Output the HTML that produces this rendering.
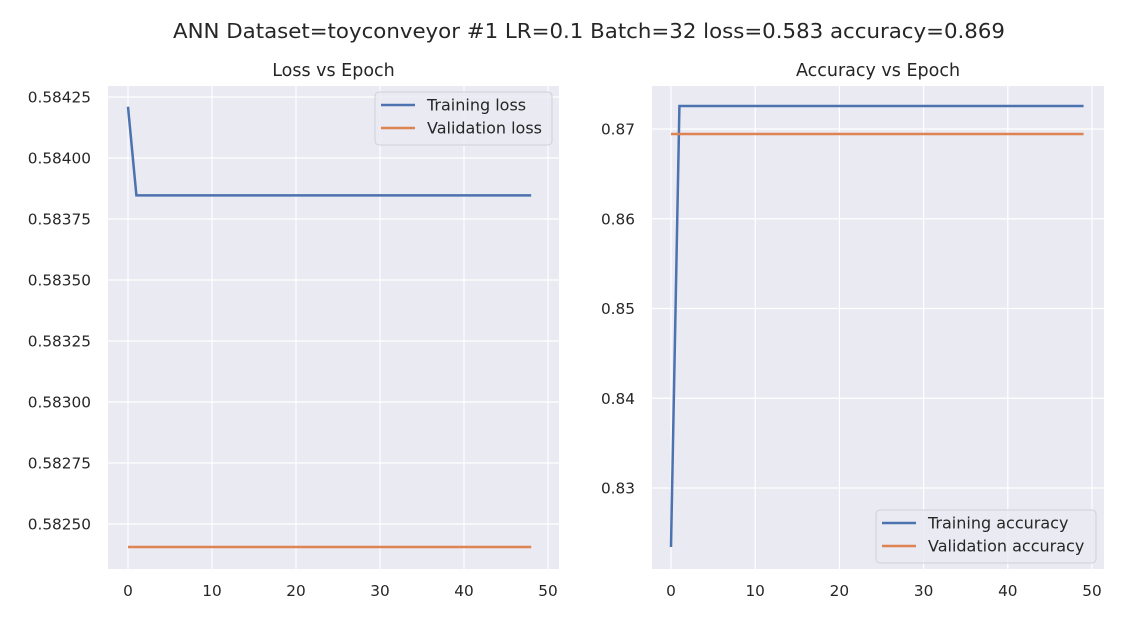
<!DOCTYPE html>
<html><head><meta charset="utf-8"><style>
body{margin:0;background:#fff;}
svg text{font-family:"DejaVu Sans","Liberation Sans",sans-serif;fill:#262626;}
</style></head><body>
<svg id="fig" width="1122" height="635" xmlns="http://www.w3.org/2000/svg">
<text x="589" y="38" font-size="20.3" text-anchor="middle" textLength="832" lengthAdjust="spacingAndGlyphs">ANN Dataset=toyconveyor #1 LR=0.1 Batch=32 loss=0.583 accuracy=0.869</text>
</svg>
<script>
const lossEpochs = Array.from({length:49},(_,i)=>i);
const trainLoss = [0.58421].concat(Array(48).fill(0.583847));
const valLoss = Array(49).fill(0.582406);
const accEpochs = Array.from({length:50},(_,i)=>i);
const trainAcc = [0.82343].concat(Array(49).fill(0.872563));
const valAcc = Array(50).fill(0.86944);
const lossYTicks = [0.5825,0.58275,0.583,0.58325,0.5835,0.58375,0.584,0.58425];
const accYTicks = [0.83,0.84,0.85,0.86,0.87];
const xTicks = [0,10,20,30,40,50];

const NS="http://www.w3.org/2000/svg";
const svg=document.getElementById('fig');
function mk(tag,attrs,parent){const e=document.createElementNS(NS,tag);for(const k in attrs)e.setAttribute(k,attrs[k]);(parent||svg).appendChild(e);return e;}

function panel(cfg){
  const g=mk('g',{});
  
  
  const {L,R,T,B}=cfg;
  const sx=v=>cfg.x0px+(v-0)*cfg.xs;
  const sy=v=>cfg.yRefPx+(cfg.yRef-v)*cfg.ys;
  const bg=mk('rect',{x:L,y:T,width:R-L,height:B-T,fill:'#eaeaf2'},g);
  
  
  cfg.yticks.forEach(t=>{
    const y=sy(t);
    const ln=mk('line',{x1:L,x2:R,y1:y,y2:y,stroke:'#fff','stroke-width':1.2},g);
    
    
    const tx=mk('text',{x:L-17,y:y+5.5,'font-size':15.3,'text-anchor':'end'},g);
    tx.textContent=cfg.fmt(t);
    
    
  });
  xTicks.forEach(t=>{
    const x=sx(t);
    const ln=mk('line',{x1:x,x2:x,y1:T,y2:B,stroke:'#fff','stroke-width':1.2},g);
    
    
    const tx=mk('text',{x:x,y:B+27,'font-size':15.3,'text-anchor':'middle'},g);
    tx.textContent=t;
    
    
  });
  const ti=mk('text',{x:(L+R)/2,y:T-10,'font-size':17.5,'text-anchor':'middle'},g);
  ti.textContent=cfg.title;
  
  
  cfg.series.forEach(s=>{
    const pts=s.y.map((v,i)=>sx(s.x[i]).toFixed(2)+','+sy(v).toFixed(2)).join(' ');
    const pl=mk('polyline',{points:pts,fill:'none',stroke:s.color,'stroke-width':2.5},g);
    
    
  });
  const lg=mk('g',{},g);
  
  
  mk('rect',{x:cfg.leg[0],y:cfg.leg[1],width:cfg.leg[2],height:53,rx:4,fill:'#eaeaf2','fill-opacity':0.8,stroke:'#d0d0d8'},lg);
  cfg.series.forEach((s,i)=>{
    const y=cfg.leg[1]+13+i*23;
    mk('line',{x1:cfg.leg[0]+6,x2:cfg.leg[0]+40,y1:y,y2:y,stroke:s.color,'stroke-width':2.5},lg);
    const t=mk('text',{x:cfg.leg[0]+52,y:y+5.5,'font-size':16},lg);
    t.textContent=s.label;
    
    
  });
}
panel({name:'loss-chart',title:'Loss vs Epoch',L:108,R:559,T:86,B:569,x0px:128,xs:8.4,yRef:0.584,yRefPx:158,ys:61/0.00025,
  yticks:lossYTicks,fmt:v=>v.toFixed(5),leg:[375,92,177],
  series:[{name:'training-loss-line',label:'Training loss',x:lossEpochs,y:trainLoss,color:'#4c72b0'},
          {name:'validation-loss-line',label:'Validation loss',x:lossEpochs,y:valLoss,color:'#dd8452'}]});
panel({name:'accuracy-chart',title:'Accuracy vs Epoch',L:652,R:1104,T:86,B:569,x0px:671,xs:8.42,yRef:0.87,yRefPx:129,ys:8975,
  yticks:accYTicks,fmt:v=>v.toFixed(2),leg:[876,510,220],
  series:[{name:'training-accuracy-line',label:'Training accuracy',x:accEpochs,y:trainAcc,color:'#4c72b0'},
          {name:'validation-accuracy-line',label:'Validation accuracy',x:accEpochs,y:valAcc,color:'#dd8452'}]});
</script>
</body></html>
